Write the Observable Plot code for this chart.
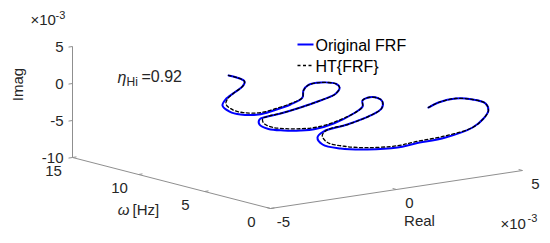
<!DOCTYPE html>
<html><head><meta charset="utf-8">
<script src="https://cdn.jsdelivr.net/npm/d3@7"></script>
<script src="https://cdn.jsdelivr.net/npm/@observablehq/plot@0.6"></script>
<style>html,body{margin:0;padding:0;background:#fff}svg{display:block}</style>
</head><body><div id="chart"></div>
<script>
// ---- data (Real and Imag in units of 1e-3) ----
const omega = [1.00,1.50,1.85,2.05,2.15,2.22,2.28,2.33,2.40,2.46,2.50,2.56,2.62,2.68,2.76,2.86,3.05,3.30,3.50,3.70,3.95,4.15,4.28,4.40,4.55,4.75,4.90,5.00,5.12,5.25,5.40,5.55,5.70,5.90,6.15,6.45,6.75,7.10,7.55,8.30,8.40,8.50,8.65,8.85,9.05,9.25,9.45,9.65,9.90,10.15,10.50,10.90,11.30,11.75,12.15];
const reFRF = [1.79,2.45,3.31,4.09,4.66,4.81,4.65,4.24,3.20,2.04,1.35,0.19,-0.85,-1.53,-1.69,-1.40,-0.35,0.70,1.24,1.38,1.32,1.02,0.89,0.96,0.68,-0.01,-0.65,-1.19,-1.80,-2.33,-2.61,-2.53,-2.21,-1.51,-0.59,0.36,1.11,1.46,1.57,1.33,0.91,0.76,0.80,0.43,-0.14,-0.63,-1.24,-1.57,-1.72,-1.47,-0.93,-0.40,-0.11,-0.19,-0.30];
const imFRF = [-0.30,-0.19,-0.25,-0.88,-1.76,-2.82,-3.84,-4.87,-5.72,-5.96,-6.17,-5.87,-5.23,-4.36,-3.37,-2.76,-2.44,-1.87,-1.30,-0.52,-0.12,-0.02,-0.40,-1.30,-2.17,-3.26,-3.74,-3.71,-3.45,-3.04,-2.36,-1.79,-1.69,-1.66,-1.44,-1.12,-0.77,-0.23,-0.02,-0.04,-0.20,-0.92,-1.95,-2.80,-3.41,-3.79,-3.57,-3.09,-2.31,-1.75,-1.24,-0.88,-0.54,-0.16,-0.02];
const reHT = [1.79,2.45,3.31,4.09,4.66,4.81,4.65,4.24,3.20,2.04,1.35,0.19,-0.70,-1.35,-1.50,-1.25,-0.35,0.70,1.24,1.38,1.32,1.02,0.89,0.96,0.68,-0.01,-0.60,-1.12,-1.70,-2.18,-2.45,-2.40,-2.12,-1.51,-0.59,0.36,1.11,1.46,1.57,1.33,0.91,0.76,0.80,0.43,-0.10,-0.56,-1.12,-1.44,-1.58,-1.38,-0.93,-0.40,-0.11,-0.19,-0.30];
const imHT = [-0.30,-0.19,-0.25,-0.88,-1.76,-2.82,-3.84,-4.87,-5.50,-5.72,-5.92,-5.62,-5.00,-4.15,-3.20,-2.62,-2.44,-1.87,-1.30,-0.52,-0.12,-0.02,-0.40,-1.30,-2.17,-3.10,-3.52,-3.50,-3.26,-2.88,-2.24,-1.72,-1.64,-1.66,-1.44,-1.12,-0.77,-0.23,-0.02,-0.04,-0.20,-0.92,-1.95,-2.68,-3.22,-3.58,-3.38,-2.93,-2.20,-1.68,-1.24,-0.88,-0.54,-0.16,-0.02];
const reTicks = [-5, 0, 5];
const omegaTicks = [0, 5, 10, 15];
const imTicks = [-10, -5, 0, 5];
const seriesNames = ["Original FRF", "HT{FRF}"];
const etaValue = 0.92;

// ---- 3-D view (screen offsets per data unit) ----
const reDom = [-5, 5], wDom = [0, 15], imDom = [-10, 5];
const O = [270, 208];            // screen spot of (re=-5, ω=0, im=-10)
const ER = [25.2, -3.8], EW = [-13.2, -3.4], EI = [0, -7.4];
function proj(r, w, i) {
  const dr = r - reDom[0], dw = w - wDom[0], di = i - imDom[0];
  return [O[0] + ER[0]*dr + EW[0]*dw + EI[0]*di, O[1] + ER[1]*dr + EW[1]*dw + EI[1]*di];
}
const pt = (r, w, i) => { const [x, y] = proj(r, w, i); return {x, y}; };

const frf = omega.map((w, k) => pt(reFRF[k], w, imFRF[k]));
const ht = omega.map((w, k) => pt(reHT[k], w, imHT[k]));

const axes = [
  {id: "re", a: pt(reDom[0], wDom[0], imDom[0]), b: pt(reDom[1], wDom[0], imDom[0])},
  {id: "w", a: pt(reDom[0], wDom[0], imDom[0]), b: pt(reDom[0], wDom[1], imDom[0])},
  {id: "im", a: pt(reDom[0], wDom[1], imDom[0]), b: pt(reDom[0], wDom[1], imDom[1])}
];
const TL = 4;
const unit = v => { const n = Math.hypot(v[0], v[1]); return [v[0]/n, v[1]/n]; };
const uR = unit(ER), uW = unit(EW);
const ticks = [];
const labels = [];
reTicks.forEach(t => { const p = pt(t, wDom[0], imDom[0]);
  ticks.push({x1: p.x, y1: p.y, x2: p.x + uW[0]*TL, y2: p.y + uW[1]*TL});
  labels.push({x: p.x + 13, y: p.y + 14, t: String(t), anchor: "middle"}); });
omegaTicks.forEach(t => { const p = pt(reDom[0], t, imDom[0]);
  ticks.push({x1: p.x, y1: p.y, x2: p.x + uR[0]*TL, y2: p.y + uR[1]*TL});
  labels.push({x: p.x - 19, y: p.y + 13.5, t: String(t), anchor: "middle"}); });
imTicks.forEach(t => { const p = pt(reDom[0], wDom[1], t);
  ticks.push({x1: p.x, y1: p.y, x2: p.x - uR[0]*TL, y2: p.y - uR[1]*TL});
  labels.push({x: p.x - 9, y: p.y + 0.5, t: String(t), anchor: "end"}); });

const axisColor = "#8f8f8f", textColor = "#262626";
const FONT = "'Liberation Sans', Arial, Helvetica, sans-serif";
const txt = (data, o) => Plot.text(data, Object.assign({x: "x", y: "y", text: "t", fill: textColor, fontSize: 15}, o));

const chart = Plot.plot({
  width: 550, height: 243, margin: 0,
  x: {type: "identity"}, y: {type: "identity"},
  style: {fontFamily: FONT, background: "#fff", overflow: "visible"},
  marks: [
    Plot.link(axes, {x1: d => d.a.x, y1: d => d.a.y, x2: d => d.b.x, y2: d => d.b.y, stroke: axisColor, strokeWidth: 1}),
    Plot.link(ticks, {x1: "x1", y1: "y1", x2: "x2", y2: "y2", stroke: axisColor, strokeWidth: 1}),
    txt(labels.filter(d => d.anchor === "middle"), {textAnchor: "middle"}),
    txt(labels.filter(d => d.anchor === "end"), {textAnchor: "end"}),
    // axis titles
    txt([{x: 18, y: 84, t: "Imag"}], {rotate: -90}),
    txt([{x: 123, y: 210, t: "ω"}], {fontStyle: "italic", textAnchor: "middle"}),
    txt([{x: 132, y: 210, t: "[Hz]"}], {textAnchor: "start"}),
    txt([{x: 419, y: 221, t: "Real"}], {textAnchor: "middle"}),
    // exponent labels
    txt([{x: 30, y: 20, t: "×10"}, {x: 500, y: 224, t: "×10"}], {textAnchor: "start"}),
    txt([{x: 55, y: 15, t: "-3"}, {x: 527, y: 218, t: "-3"}], {textAnchor: "start", fontSize: 11}),
    // curves
    Plot.line(frf, {x: "x", y: "y", stroke: "#0000ff", strokeWidth: 2, curve: "catmull-rom"}),
    Plot.line(ht, {x: "x", y: "y", stroke: "#000", strokeWidth: 1.3, strokeDasharray: "3,2.5", curve: "catmull-rom"}),
    // annotation
    txt([{x: 117, y: 77, t: "η"}], {textAnchor: "start", fontSize: 16, fontStyle: "italic"}),
    txt([{x: 126, y: 82, t: "Hi"}], {textAnchor: "start", fontSize: 12}),
    txt([{x: 141, y: 76, t: "=" + etaValue.toFixed(2)}], {textAnchor: "start", fontSize: 16}),
    // legend
    Plot.link([{y: 44}], {x1: () => 297, x2: () => 313, y1: "y", y2: "y", stroke: "#0000ff", strokeWidth: 2}),
    Plot.link([{y: 65}], {x1: () => 297, x2: () => 313, y1: "y", y2: "y", stroke: "#000", strokeWidth: 1.3, strokeDasharray: "3,2.5"}),
    txt([{x: 315, y: 45, t: seriesNames[0]}, {x: 315, y: 66, t: seriesNames[1]}], {textAnchor: "start", fontSize: 16, fill: "#000"})
  ]
});
document.getElementById("chart").appendChild(chart);
</script>
</body></html>
